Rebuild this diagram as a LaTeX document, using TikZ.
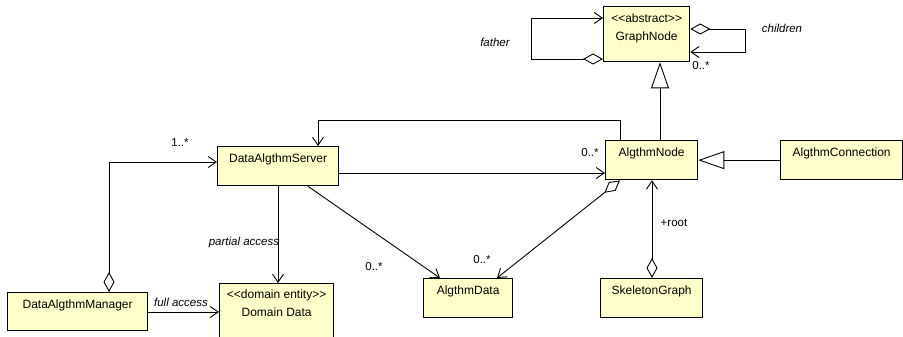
\documentclass[tikz,border=0pt]{standalone}
\usepackage{fontspec}
\setmainfont{Liberation Sans}[Ligatures=TeXOff]
\usetikzlibrary{arrows.meta}
\definecolor{boxfill}{RGB}{255,255,204}
\begin{document}
\begin{tikzpicture}[x=1pt,y=-1pt,
  box/.style={draw=black, fill=boxfill, line width=1.3pt, inner sep=0pt, anchor=north west},
  txt/.style={font=\fontsize{12}{14}\selectfont, inner sep=0pt, anchor=base},
  lbl/.style={font=\fontsize{11.5}{13}\selectfont, inner sep=0pt},
  ilbl/.style={font=\fontsize{11.5}{13}\selectfont\itshape, inner sep=0pt},
  link/.style={draw=black, line width=0.9pt},
  nav/.style={link, -{Straight Barb[length=8pt,width=11pt]}},
  agg/.style={link, {Diamond[open,length=20pt,width=11pt]}-{Straight Barb[length=8pt,width=11pt]}},
  gen/.style={link, -{Triangle[open,length=26pt,width=18pt]}}
]
\useasboundingbox (0,0) rectangle (903,337);
\clip (0,0) rectangle (903,337);

% classes
\node[box, minimum width=86pt, minimum height=55pt] (graph) at (603,6) {};
\node[txt] (graph-s) at ([yshift=-17pt]graph.north) {\textless\textless abstract\textgreater\textgreater};
\node[txt] (graph-n) at ([yshift=-35pt]graph.north) {GraphNode};

\node[box, minimum width=92pt, minimum height=39pt] (algnode) at (605,140) {};
\node[txt] (algnode-n) at ([yshift=-16.5pt]algnode.north) {AlgthmNode};

\node[box, minimum width=121pt, minimum height=39pt] (server) at (217,146) {};
\node[txt] (server-n) at ([yshift=-16.5pt]server.north) {DataAlgthmServer};

\node[box, minimum width=122pt, minimum height=39pt] (conn) at (780,140) {};
\node[txt] (conn-n) at ([yshift=-16.5pt]conn.north) {AlgthmConnection};

\node[box, minimum width=89pt, minimum height=39pt] (data) at (423,278) {};
\node[txt] (data-n) at ([yshift=-16.5pt]data.north) {AlgthmData};

\node[box, minimum width=102pt, minimum height=39pt] (skel) at (600,278) {};
\node[txt] (skel-n) at ([yshift=-16.5pt]skel.north) {SkeletonGraph};

\node[box, minimum width=140pt, minimum height=38pt] (mgr) at (7,292) {};
\node[txt] (mgr-n) at ([yshift=-16.5pt]mgr.north) {DataAlgthmManager};

\node[box, minimum width=114pt, minimum height=70pt] (domain) at (219,283) {};
\node[txt] (domain-s) at ([yshift=-15pt]domain.north) {\textless\textless domain entity\textgreater\textgreater};
\node[txt] (domain-n) at ([yshift=-33pt]domain.north) {Domain Data};

% self associations of GraphNode
\draw[agg] (graph.west |- 0,59) -| (531,18) -- (graph.west |- 0,18);
\node[ilbl] (father) at (495,42) {father};
\draw[agg] (graph.east |- 0,29) -| (745,52) -- (graph.east |- 0,52);
\node[ilbl] (children) at (782,28) {children};
\node[lbl] (m-children) at (701,66) {0..*};

% generalizations
\draw[gen] (algnode.north -| 660,0) -- (graph.south -| 660,0);
\draw[gen] (conn.west) -- (algnode.east);

% associations around AlgthmNode
\draw[nav] (algnode.north -| 620,0) |- (318,120) -- (server.north -| 318,0);
\draw[nav] (server.east |- 0,173) -- (algnode.west |- 0,173);
\node[lbl] (m-node) at (590,153) {0..*};
\draw[agg] (skel.north -| 652,0) -- (algnode.south -| 652,0);
\node[lbl] (root) at (674,223) {+root};
\draw[agg] (algnode.south -| 620,0) -- (data.north -| 497,0);
\node[lbl] (m-data2) at (482,260) {0..*};

% associations of DataAlgthmServer
\draw[nav] (server.south -| 308,0) -- (data.north -| 440,0);
\node[lbl] (m-data1) at (374,267) {0..*};
\draw[nav] (server.south -| 278,0) -- (domain.north -| 278,0);
\node[ilbl] (partial) at (244,243) {partial access};

% associations of DataAlgthmManager
\draw[agg] (mgr.north -| 109,0) |- (server.west |- 0,162);
\node[lbl] (m-server) at (180,143) {1..*};
\draw[nav] (mgr.east |- 0,312) -- (domain.west |- 0,312);
\node[ilbl] (full) at (181,302) {full access};
\end{tikzpicture}
\end{document}
